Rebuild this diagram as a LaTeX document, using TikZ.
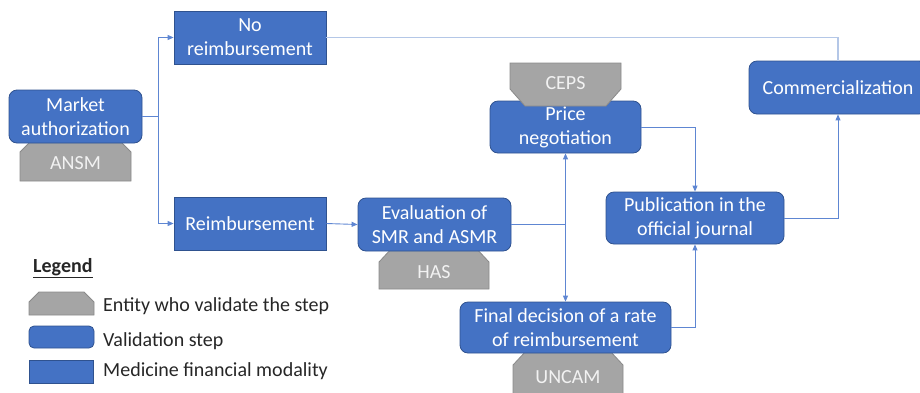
\documentclass[tikz,border=0pt]{standalone}
\usepackage{fontspec}
\setmainfont{Carlito}
\usetikzlibrary{arrows.meta,calc}
\definecolor{boxblue}{HTML}{4472C4}
\definecolor{boxedge}{HTML}{2F528F}
\definecolor{entgray}{HTML}{A5A5A5}
\definecolor{entedge}{HTML}{8A8A8A}
\definecolor{linkblue}{HTML}{5E86D2}
\definecolor{palelink}{HTML}{B4C7E7}
\definecolor{legtext}{HTML}{262626}
\tikzset{
  txt/.style={font=\fontsize{20}{24}\selectfont, align=center, inner sep=0pt},
  stepbox/.style={txt, draw=boxedge, line width=0.8pt, fill=boxblue, text=white, rounded corners=8pt},
  modbox/.style={txt, draw=boxedge, line width=0.8pt, fill=boxblue, text=white},
  entity/.style={fill=entgray, draw=entedge, line width=0.8pt},
  enttext/.style={txt, text=white!95!black},
  link/.style={draw=linkblue, line width=0.9pt, -{Triangle[length=6pt,width=5pt]}},
  plainlink/.style={draw=linkblue, line width=0.9pt},
  palelinkst/.style={draw=palelink, line width=1.4pt},
  legtxt/.style={txt, text=legtext, anchor=west},
}
\begin{document}
\begin{tikzpicture}[x=1pt,y=-1pt]
\useasboundingbox (0,0) rectangle (920,392);
\clip (0,0) rectangle (920,392);

% entities drawn below their steps
\draw[entity] (20,181) -- (20,152) -- (34,138) -- (117,138) -- (131,152) -- (131,181) -- cycle;
\draw[entity] (379,289) -- (379,262) -- (393,247) -- (475,247) -- (489,262) -- (489,289) -- cycle;
\draw[entity] (513,396) -- (513,365) -- (526,351) -- (610,351) -- (623,365) -- (623,396) -- cycle;

% steps and modalities
\node[stepbox, minimum width=133pt, minimum height=53pt] (ma) at (75.5,116.5) {Market\\authorization};
\node[modbox, minimum width=152pt, minimum height=53pt] (noreimb) at (250,37.5) {No\\reimbursement};
\node[modbox, minimum width=152pt, minimum height=53pt] (reimb) at (250,223.5) {Reimbursement};
\node[stepbox, minimum width=153pt, minimum height=53pt] (eval) at (434.5,224.5) {Evaluation of\\SMR and ASMR};
\node[stepbox, minimum width=151pt, minimum height=52pt] (price) at (565.5,127) {Price\\negotiation};
\node[stepbox, minimum width=211pt, minimum height=51pt] (final) at (565.5,327.5) {Final decision of a rate\\of reimbursement};
\node[stepbox, minimum width=178pt, minimum height=52pt] (pub) at (695,218) {Publication in the\\official journal};
\node[stepbox, minimum width=178pt, minimum height=53pt] (comm) at (838,87.5) {Commercialization};

% entity on top of price negotiation
\draw[entity] (510,63) -- (621,63) -- (621,89) -- (606,106) -- (525,106) -- (510,89) -- cycle;

% entity labels
\node[enttext] (ansm) at (75.5,163) {ANSM};
\node[enttext] (ceps) at (565.5,83) {CEPS};
\node[enttext] (has) at (434,272) {HAS};
\node[enttext] (uncam) at (568,377) {UNCAM};

% connectors
\coordinate (split) at ($(ma.east)+(16,0)$);
\draw[link] (ma.east) -- (split) |- (noreimb.west);
\draw[link] (split) |- (reimb.west);
\draw[palelinkst] (noreimb.east) -| (comm.north);
\draw[link] (reimb.east) -- (eval.west);
\coordinate (junc) at (price.south |- eval.east);
\draw[plainlink] (eval.east) -- (junc);
\draw[link] (junc) -- (price.south);
\draw[link] (junc) -- (final.north);
\draw[link] (price.east) -| (pub.north);
\draw[link] (final.east) -| (pub.south);
\draw[link] (pub.east) -| (comm.south);

% legend
\node[legtxt] (legtitle) at (33,268) {\textbf{\underline{Legend}}};
\draw[entity] (29,315) -- (29,302) -- (39,292) -- (84,292) -- (94,302) -- (94,315) -- cycle;
\node[legtxt] (leg1) at (103,306.5) {Entity who validate the step};
\node[stepbox, minimum width=65pt, minimum height=22pt, rounded corners=5pt] (legstep) at (61.5,337) {};
\node[legtxt] (leg2) at (103,341.5) {Validation step};
\node[modbox, minimum width=64pt, minimum height=23pt] (legmod) at (61,371.5) {};
\node[legtxt] (leg3) at (103,371.5) {Medicine financial modality};
\end{tikzpicture}
\end{document}
